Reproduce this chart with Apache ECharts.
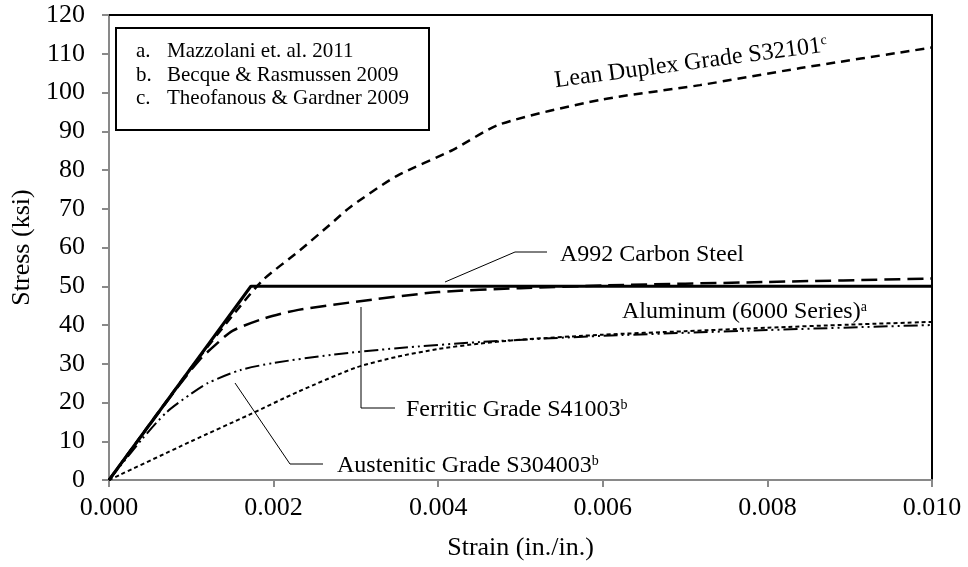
<!DOCTYPE html>
<html><head><meta charset="utf-8">
<script src="https://cdn.jsdelivr.net/npm/echarts@6/dist/echarts.min.js"></script>
<style>html,body{margin:0;padding:0;background:#fff}#c{width:968px;height:567px}</style>
</head><body><div id="c"></div>
<script>
// ---- data ----
const xTickValues = [0, 0.002, 0.004, 0.006, 0.008, 0.010];
const yTickValues = [0,10,20,30,40,50,60,70,80,90,100,110,120];

const carbonStrain = [0, 0.001724, 0.010];
const carbonStress = [0, 50, 50];

const duplexStrain = [0, 0.0010, 0.0016, 0.00187, 0.00232, 0.00268, 0.00293, 0.0035, 0.00418, 0.00475, 0.00597, 0.00718, 0.0084, 0.010];
const duplexStress = [0, 29, 45, 51.6, 59.3, 65.8, 70.4, 78.5, 85.2, 91.8, 98.1, 101.9, 106.3, 111.6];

const ferriticStrain = [0, 0.0008, 0.0011, 0.0013, 0.0015, 0.0019, 0.0023, 0.0030, 0.0040, 0.0050, 0.0060, 0.0080, 0.010];
const ferriticStress = [0, 23, 31, 35, 38.5, 41.8, 43.9, 46.0, 48.5, 49.5, 50.2, 51.1, 52.0];

const austeniticStrain = [0, 0.0004, 0.0007, 0.0010, 0.0012, 0.0016, 0.0020, 0.0027, 0.0035, 0.0045, 0.0060, 0.0080, 0.010];
const austeniticStress = [0, 10.5, 17.5, 22.3, 25, 28.4, 30.2, 32.3, 34, 35.6, 37.2, 38.7, 40];

const aluminumStrain = [0, 0.0010, 0.0017, 0.0023, 0.0030, 0.0035, 0.0040, 0.0045, 0.0050, 0.0060, 0.0070, 0.0080, 0.0090, 0.010];
const aluminumStress = [0, 10, 16.8, 22.8, 29, 31.8, 33.8, 35.2, 36.2, 37.5, 38.4, 39.3, 40.1, 40.8];

const legendLines = [['a.', 'Mazzolani et. al. 2011'], ['b.', 'Becque & Rasmussen 2009'], ['c.', 'Theofanous & Gardner 2009']];

// ---- chart ----
const FONT = '"Liberation Serif", "Times New Roman", serif';
function pairs(xs, ys) { return xs.map((x, i) => [x, ys[i]]); }

const chart = echarts.init(document.getElementById('c'), null, {renderer: 'canvas'});

function lineSeries(name, xs, ys, width, dash, smooth) {
  return {
    name, type: 'line', data: pairs(xs, ys), showSymbol: false, symbol: 'none',
    smooth: smooth ? 0.25 : false,
    lineStyle: {color: '#000', width, type: dash}, z: 3, animation: false
  };
}

const sup = {fontSize: 14, fontFamily: FONT, color: '#000', verticalAlign: 'top', lineHeight: 24};
const main = {fontSize: 24, fontFamily: FONT, color: '#000', lineHeight: 24};

const graphics = [
  {type: 'rect', shape: {x: 116, y: 28, width: 313, height: 102}, style: {fill: '#fff', stroke: '#000', lineWidth: 2}, z: 10},
];
const legendY = [51, 75, 98];
legendLines.forEach((l, i) => {
  graphics.push({type: 'text', x: 136, y: legendY[i], style: {text: l[0], font: '21px ' + FONT, fill: '#000', verticalAlign: 'middle'}, z: 11});
  graphics.push({type: 'text', x: 167, y: legendY[i], style: {text: l[1], font: '21px ' + FONT, fill: '#000', verticalAlign: 'middle'}, z: 11});
});
function ann(x, y, t, s, rot) {
  return {type: 'text', x, y, rotation: rot || 0, z: 11,
    style: {text: '{m|' + t + '}{s|' + s + '}', rich: {m: main, s: sup}, align: rot ? 'center' : 'left', verticalAlign: 'middle'}};
}
graphics.push(ann(691, 63, 'Lean Duplex Grade S32101', 'c', 7.5 * Math.PI / 180));
graphics.push(ann(560, 255, 'A992 Carbon Steel', ''));
graphics.push(ann(622, 312, 'Aluminum (6000 Series)', 'a'));
graphics.push(ann(406, 410, 'Ferritic Grade S41003', 'b'));
graphics.push(ann(337, 466, 'Austenitic Grade S304003', 'b'));
function leader(pts) {
  return {type: 'polyline', shape: {points: pts}, style: {stroke: '#000', lineWidth: 1, fill: null}, z: 11};
}
graphics.push(leader([[445, 282], [515, 252], [547, 252]]));
graphics.push(leader([[395, 408], [361, 408], [361, 307]]));
graphics.push(leader([[323, 464], [290, 464], [235, 383]]));

const axisLabelStyle = {color: '#000', fontSize: 26, fontFamily: FONT};

chart.setOption({
  animation: false,
  backgroundColor: '#fff',
  grid: {left: 109, top: 15, right: 36, bottom: 87, show: false},
  xAxis: [{
    type: 'value', min: 0, max: 0.010, interval: 0.002, position: 'bottom',
    axisLine: {show: true, onZero: false, lineStyle: {color: '#898989', width: 2}},
    axisTick: {show: true, length: 7, lineStyle: {color: '#898989', width: 2}},
    splitLine: {show: false},
    axisLabel: {...axisLabelStyle, margin: 15, formatter: v => v.toFixed(3)},
    name: 'Strain (in./in.)', nameLocation: 'middle', nameGap: 55,
    nameTextStyle: {color: '#000', fontSize: 26, fontFamily: FONT}
  }, {
    type: 'value', min: 0, max: 0.010, position: 'top',
    axisLine: {show: true, onZero: false, lineStyle: {color: '#000', width: 2}},
    axisTick: {show: false}, axisLabel: {show: false}, splitLine: {show: false}
  }],
  yAxis: [{
    type: 'value', min: 0, max: 120, interval: 10, position: 'left',
    axisLine: {show: true, onZero: false, lineStyle: {color: '#898989', width: 2}},
    axisTick: {show: true, length: 7, lineStyle: {color: '#898989', width: 2}},
    splitLine: {show: false},
    axisLabel: {...axisLabelStyle, margin: 24},
    name: 'Stress (ksi)', nameLocation: 'middle', nameGap: 70,
    nameTextStyle: {color: '#000', fontSize: 26, fontFamily: FONT}
  }, {
    type: 'value', min: 0, max: 120, position: 'right',
    axisLine: {show: true, onZero: false, lineStyle: {color: '#000', width: 2}},
    axisTick: {show: false}, axisLabel: {show: false}, splitLine: {show: false}
  }],
  series: [
    lineSeries('Aluminum', aluminumStrain, aluminumStress, 2, [4, 3], true),
    lineSeries('Austenitic', austeniticStrain, austeniticStress, 2, [14, 4, 2, 4, 2, 4], true),
    lineSeries('Ferritic', ferriticStrain, ferriticStress, 2.5, [16, 7], true),
    lineSeries('Lean Duplex', duplexStrain, duplexStress, 2.5, [9, 6], true),
    lineSeries('A992', carbonStrain, carbonStress, 3, 'solid', false)
  ],
  graphic: graphics
});
</script>
</body></html>
